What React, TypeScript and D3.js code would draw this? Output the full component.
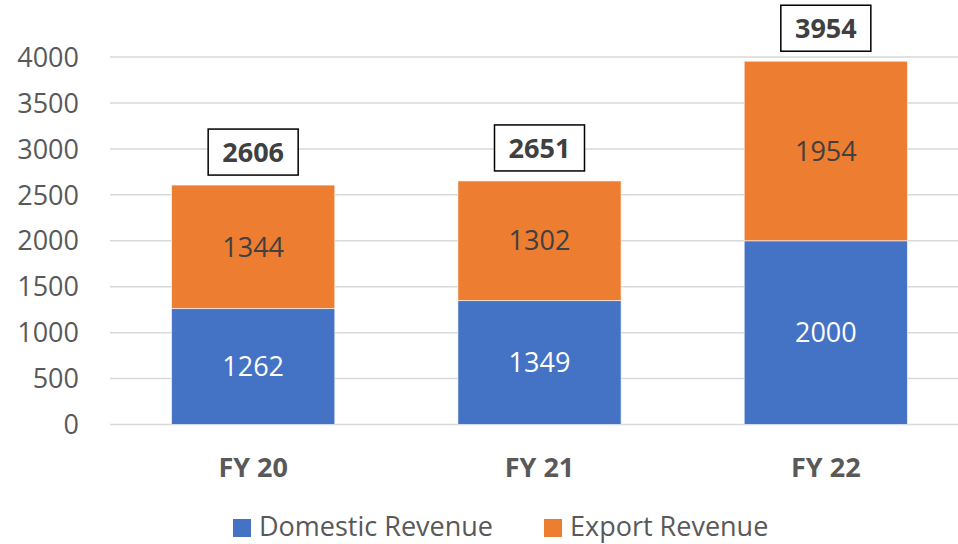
import React from 'react';
import * as d3 from 'd3';

const categories = ['FY 20', 'FY 21', 'FY 22'];
const domestic = [1262, 1349, 2000];
const exportRev = [1344, 1302, 1954];
const seriesNames = ['Domestic Revenue', 'Export Revenue'];
const yTicks = [0, 500, 1000, 1500, 2000, 2500, 3000, 3500, 4000];

const colors = ['#4472C4', '#ED7D31'];
const font = "'Open Sans', 'Noto Sans', sans-serif";

const App = () => {
  const width = 958;
  const height = 544;

  const x = d3.scaleBand().domain(categories).range([110, 969]).paddingInner(0.43).paddingOuter(0.215);
  const y = d3.scaleLinear().domain([0, 4000]).range([424.5, 57]);

  const rows = categories.map((c, i) => ({ cat: c, domestic: domestic[i], export: exportRev[i] }));
  const stack = d3.stack().keys(['domestic', 'export'])(rows as any);

  return (
    <svg width={width} height={height} style={{ position: 'absolute', left: 0, top: 0, fontFamily: font }}>
      <rect width={width} height={height} fill="#fff" />
      {yTicks.map(t => (
        <g key={t}>
          <line x1={110} x2={958} y1={y(t)} y2={y(t)} stroke="#d9d9d9" strokeWidth={1.5} />
          <text x={79} y={y(t)} dy="0.36em" textAnchor="end" fontSize={27} fill="#595959">{t}</text>
        </g>
      ))}
      {stack.map((layer, si) => (
        <g key={si}>
          {layer.map((d, i) => (
            <g key={i}>
              <rect
                x={x(categories[i])}
                width={x.bandwidth()}
                y={y(d[1])}
                height={y(d[0]) - y(d[1])}
                fill={colors[si]}
                stroke="#fff"
                strokeOpacity={0.6}
                strokeWidth={1}
              />
              <text
                x={(x(categories[i]) as number) + x.bandwidth() / 2}
                y={(y(d[0]) + y(d[1])) / 2}
                dy="0.36em"
                textAnchor="middle"
                fontSize={27}
                fill={si === 0 ? '#fff' : '#404040'}
              >
                {d[1] - d[0]}
              </text>
            </g>
          ))}
        </g>
      ))}
      {categories.map((c, i) => {
        const total = domestic[i] + exportRev[i];
        const cx = (x(c) as number) + x.bandwidth() / 2;
        const boxW = 90;
        const boxH = 46;
        const by = y(total) - 10 - boxH;
        return (
          <g key={c}>
            <rect x={cx - boxW / 2} y={by} width={boxW} height={boxH} fill="#fff" stroke="#000" strokeWidth={1.5} />
            <text x={cx} y={by + boxH / 2} dy="0.36em" textAnchor="middle" fontSize={27} fontWeight="bold" fill="#404040">{total}</text>
            <text x={cx} y={467} dy="0.36em" textAnchor="middle" fontSize={27} fontWeight="bold" fill="#595959">{c}</text>
          </g>
        );
      })}
      {seriesNames.map((s, i) => {
        const lx = [233, 544][i];
        return (
          <g key={s}>
            <rect x={lx} y={519} width={18} height={18} fill={colors[i]} />
            <text x={lx + 26} y={526} dy="0.36em" fontSize={27} fill="#595959">{s}</text>
          </g>
        );
      })}
    </svg>
  );
};

export default App;
